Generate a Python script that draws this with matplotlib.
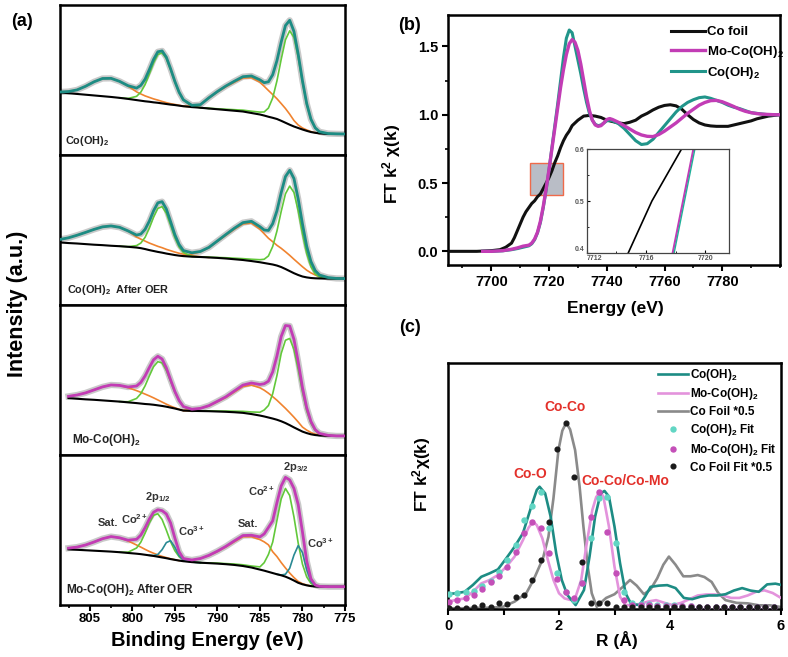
import numpy as np
import matplotlib
matplotlib.use('Agg')
import matplotlib.pyplot as plt
from matplotlib.patches import Rectangle
from matplotlib.ticker import MultipleLocator, FormatStrFormatter

plt.rcParams['font.family'] = ['Liberation Sans', 'DejaVu Sans']
plt.rcParams['font.weight'] = 'bold'
plt.rcParams['mathtext.fontset'] = 'custom'
plt.rcParams['mathtext.rm'] = 'Liberation Sans:bold'
plt.rcParams['mathtext.it'] = 'Liberation Sans:bold'
plt.rcParams['mathtext.bf'] = 'Liberation Sans:bold'
plt.rcParams['axes.linewidth'] = 1.8

# ---------------- (a) Co 2p XPS ----------------
be = [808.5, 807.5, 806.5, 805.5, 804.5, 803.5, 802.5, 801.5, 800.5, 799.5,
      799, 798.5, 798, 797.5, 797, 796.5, 796, 795.5, 795, 794.5, 794,
      793, 792, 791, 790, 789, 788, 787, 786, 785,
      784.5, 784, 783.5, 783, 782.5, 782, 781.5, 781, 780.5, 780,
      779.5, 779, 778.5, 778, 777, 776, 775]

# start index (in be) of each fitted component
I_SAT1, I_P12, I_SAT2, I_P32, I_CO3A, I_CO3B = 0, 8, 21, 23, 13, 34

# Co(OH)2
bg1 = [41.7, 41.2, 40.7, 40.2, 39.7, 39.2, 38.7, 38.1, 37.4, 36.6, 36.2, 35.8, 35.5, 35.1,
       34.8, 34.4, 34.0, 33.6, 33.3, 32.9, 32.5, 32.0, 31.5, 31.0, 30.5, 30.0, 29.5, 29.0,
       28.0, 27.0, 26.3, 25.5, 24.8, 24.0, 22.8, 21.5, 20.2, 19.0, 18.0, 17.0, 16.1, 15.3,
       14.8, 14.4, 14.0, 14.0, 14.0]
sat1_1 = [0.3, 1.1, 2.7, 5.6, 9.1, 11.8, 12.4, 11.0, 8.5, 5.5, 4.5, 3.6, 2.9, 2.3, 1.8,
          1.3, 0.9, 0.6, 0.4, 0.25, 0.1]
p12_1 = [0.3, 2.5, 5.7, 11.1, 18.5, 26.3, 32.2, 33.7, 30.3, 23.3, 15.4, 8.7, 4.2, 0.6, 0.05]
sat2_1 = [0.5, 2.0, 7.0, 11.5, 15.5, 19.0, 22.3, 23.5, 21.5, 19.5, 17.5, 15.5, 13.5, 11.5,
          9.5, 7.0, 4.0, 2.0, 1.0, 0.6, 0.3, 0.1]
p32_1 = [0.15, 0.3, 0.5, 0.7, 0.9, 1.2, 1.6, 2.4, 5.8, 13.2, 25.4, 41.0, 55.3, 62.6, 59.4,
         47.2, 31.5, 17.6, 8.2, 3.2, 1.1, 0.3, 0.1]

# Co(OH)2 after OER
bg2 = [41.7, 41.3, 41.0, 40.6, 40.2, 39.9, 39.5, 39.2, 38.8, 38.3, 37.9, 37.3, 36.6, 36.0,
       35.4, 34.9, 34.3, 33.8, 33.3, 32.9, 32.6, 32.2, 32.0, 31.7, 31.4, 31.0, 30.5, 30.0,
       29.3, 28.5, 28.0, 27.5, 27.0, 26.3, 25.3, 24.0, 22.6, 21.2, 20.0, 19.0, 18.4, 18.0,
       17.8, 17.7, 17.6, 17.6, 17.6]
sat1_2 = [2.0, 3.5, 5.5, 7.8, 10.2, 12.2, 13.2, 12.6, 10.5, 7.0, 6.0, 5.3, 4.7, 4.2, 3.7,
          3.3, 2.8, 2.4, 2.0, 1.6, 1.3, 0.6, 0.2]
p12_2 = [0.1, 1.3, 3.4, 7.8, 14.6, 22.6, 29.0, 30.7, 26.9, 19.4, 11.6, 5.8, 2.4, 0.2]
sat2_2 = [1.8, 3.5, 6.5, 11.0, 15.5, 20.0, 24.0, 25.3, 22.0, 19.5, 17.0, 15.2, 13.5, 12.5,
          11.5, 10.5, 9.3, 8.0, 6.5, 4.8, 3.4, 2.2, 1.3, 0.4, 0.1]
p32_2 = [0.2, 0.3, 0.5, 0.7, 0.9, 1.2, 1.7, 2.5, 5.2, 12.0, 23.0, 37.1, 50.1, 56.7, 53.8,
         42.7, 28.5, 15.9, 7.5, 2.9, 1.0, 0.3]

# Mo-Co(OH)2
bg3 = [38.3, 37.9, 37.5, 37.1, 36.8, 36.4, 36.0, 35.6, 35.1, 34.6, 34.3, 34.0, 33.8, 33.5,
       33.1, 32.7, 32.2, 31.6, 31.0, 30.3, 29.6, 29.4, 29.3, 29.2, 29.0, 28.8, 28.5, 28.1,
       27.3, 26.3, 25.7, 25.0, 24.3, 23.5, 22.5, 21.3, 19.9, 18.4, 17.0, 15.6, 14.6, 13.8,
       13.3, 13.0, 12.8, 12.7, 12.7]
sat1_3 = [0.5, 1.2, 2.5, 4.3, 6.6, 9.0, 10.7, 10.8, 9.8, 8.3, 7.5, 6.6, 5.6, 4.6, 3.6,
          2.6, 1.7, 1.0, 0.5, 0.2, 0.1]
p12_3 = [0.4, 3.1, 6.6, 12.1, 18.9, 25.4, 29.1, 28.7, 24.2, 17.5, 10.9, 5.8, 2.6, 0.3]
sat2_3 = [0.8, 1.8, 3.5, 6.5, 9.5, 13.5, 17.5, 19.3, 18.5, 17.5, 16.2, 14.6, 13.0, 11.3,
          9.8, 8.3, 6.8, 5.0, 3.0, 2.0, 1.2, 0.6, 0.3, 0.1]
p32_3 = [0.2, 0.3, 0.5, 0.7, 1.0, 1.4, 2.2, 4.3, 8.0, 16.5, 29.5, 45.2, 55.2, 57.8, 51.9,
         40.0, 26.4, 14.9, 7.3, 3.0, 1.1, 0.2]

# Mo-Co(OH)2 after OER
bg4 = [37.5, 37.1, 36.8, 36.5, 36.2, 35.9, 35.6, 35.2, 34.7, 34.2, 33.9, 33.5, 33.1, 32.7,
       32.2, 31.7, 31.2, 30.6, 30.1, 29.6, 29.2, 28.6, 28.2, 27.9, 27.6, 27.2, 26.7, 26.0,
       25.0, 23.6, 22.9, 22.1, 21.3, 20.5, 19.8, 18.9, 17.7, 16.3, 14.8, 13.8, 13.1, 12.6,
       12.3, 12.2, 12.2, 12.2, 12.2]
sat1_4 = [0.2, 0.8, 1.8, 3.5, 5.8, 8.3, 10.0, 9.6, 8.0, 5.8, 4.7, 3.6, 2.6, 1.8, 1.2, 0.7,
          0.4, 0.2, 0.1]
p12_4 = [0.5, 3.8, 8.0, 14.4, 21.6, 27.1, 28.6, 25.3, 18.7, 11.6, 6.1, 2.6, 1.0, 0.1]
co3a_4 = [0.25, 1.5, 5.2, 10.4, 12.3, 8.4, 3.3, 0.8, 0.0]
sat2_4 = [1.3, 2.8, 5.0, 8.0, 11.5, 15.5, 19.5, 20.5, 20.0, 19.2, 18.0, 14.2, 11.8, 8.5,
          5.8, 3.6, 2.0, 0.9, 0.4, 0.2]
p32_4 = [0.2, 0.3, 0.4, 0.6, 0.8, 1.0, 1.8, 5.3, 11.6, 20.6, 35.9, 50.9, 58.8, 55.3, 42.4,
         26.4, 13.4, 5.6, 1.8, 0.5, 0.1]
co3b_4 = [0.2, 1.6, 6.8, 17.0, 24.8, 21.1, 10.4, 3.0, 0.5, 0.1]

# ---------------- (b) Co K-edge XANES ----------------
foil_e = [7685, 7695, 7700, 7703, 7705, 7707, 7708, 7709, 7710, 7711,
          7712, 7713, 7714, 7715, 7716, 7717, 7718, 7719, 7720, 7721,
          7722, 7723, 7724, 7725, 7726, 7727, 7728,
          7730, 7732, 7734, 7736, 7738, 7740, 7742, 7744, 7746, 7748,
          7750, 7752, 7754, 7756, 7758, 7760, 7762, 7764, 7766, 7768,
          7770, 7772, 7774, 7776, 7778, 7780, 7782, 7784, 7786, 7788,
          7790, 7792, 7794, 7796, 7798, 7800]
foil_mu = [0.0, 0.0, 0.005, 0.012, 0.03, 0.06, 0.1, 0.15, 0.2, 0.25,
           0.29, 0.32, 0.35, 0.37, 0.4, 0.42, 0.46, 0.5, 0.54, 0.59,
           0.65, 0.7, 0.76, 0.81, 0.85, 0.88, 0.92,
           0.96, 0.99, 0.995, 0.99, 0.98, 0.96, 0.95, 0.94, 0.935, 0.945,
           0.96, 0.99, 1.01, 1.035, 1.055, 1.068, 1.073, 1.065, 1.04, 1.0,
           0.965, 0.94, 0.925, 0.918, 0.915, 0.915, 0.915, 0.925, 0.935, 0.945,
           0.955, 0.97, 0.98, 0.99, 0.995, 1.0]
xas_e = [7697, 7700, 7704, 7707, 7709, 7711,
         7713, 7714, 7715, 7716, 7717, 7718, 7719, 7720, 7721, 7722,
         7723, 7724, 7725, 7726, 7727, 7728, 7729, 7730, 7731, 7732,
         7733, 7734, 7735, 7736, 7737, 7738, 7739, 7740, 7741, 7742,
         7744, 7746, 7748, 7750, 7752, 7754, 7756, 7758, 7760, 7762,
         7764, 7766, 7768, 7770, 7772, 7774, 7776, 7778, 7780, 7782,
         7784, 7786, 7788, 7790, 7792, 7794, 7796, 7798, 7800]
cooh_mu = [0.0, 0.0, 0.004, 0.012, 0.02, 0.03,
           0.04, 0.055, 0.085, 0.135, 0.21, 0.32, 0.45, 0.6, 0.76, 0.92,
           1.08, 1.25, 1.42, 1.56, 1.62, 1.6, 1.5, 1.4, 1.3, 1.19,
           1.09, 1.01, 0.96, 0.93, 0.92, 0.925, 0.94, 0.955, 0.96, 0.955,
           0.935, 0.9, 0.855, 0.81, 0.782, 0.788, 0.82, 0.87, 0.92, 0.97,
           1.02, 1.06, 1.09, 1.11, 1.125, 1.13, 1.12, 1.105, 1.09, 1.07,
           1.055, 1.045, 1.03, 1.015, 1.01, 1.005, 1.0, 1.0, 1.0]
moco_mu = [0.0, 0.0, 0.005, 0.015, 0.025, 0.038,
           0.045, 0.06, 0.09, 0.14, 0.22, 0.33, 0.46, 0.6, 0.75, 0.9,
           1.05, 1.2, 1.33, 1.44, 1.52, 1.55, 1.53, 1.47, 1.37, 1.25,
           1.13, 1.03, 0.96, 0.925, 0.915, 0.92, 0.94, 0.965, 0.972, 0.965,
           0.945, 0.92, 0.895, 0.87, 0.852, 0.842, 0.84, 0.855, 0.88, 0.91,
           0.94, 0.975, 1.01, 1.04, 1.07, 1.09, 1.103, 1.105, 1.095, 1.078,
           1.06, 1.04, 1.025, 1.015, 1.008, 1.004, 1.002, 1.0, 1.0]
# inset (zoom of edge between 0.4 and 0.6)
ins_foil_e = [7714.8, 7715.6, 7716.4, 7717.4, 7718.4]
ins_foil_mu = [0.40, 0.45, 0.50, 0.55, 0.60]
ins_moco_e = [7717.8, 7718.5, 7719.2]
ins_cooh_e = [7717.9, 7718.6, 7719.3]
ins_mu = [0.40, 0.50, 0.60]

# ---------------- (c) FT-EXAFS ----------------
r_cooh = [0, 0.15, 0.3, 0.45, 0.6, 0.75, 0.9, 1.05, 1.2, 1.35,
          1.5, 1.6, 1.65, 1.75, 1.85, 1.95, 2.05, 2.15, 2.3, 2.45,
          2.55, 2.65, 2.75, 2.82, 2.9, 3.0, 3.1, 3.2, 3.3, 3.45,
          3.55, 3.65, 3.8, 3.95, 4.1, 4.25, 4.4, 4.55, 4.7, 4.85,
          5.0, 5.15, 5.3, 5.45, 5.6, 5.75, 5.9, 6.0]
ft_cooh = [6.1, 6.4, 7.0, 9.8, 13.1, 14.5, 16.1, 20.6, 25.3, 30.8,
           41.6, 48.4, 49.7, 47.0, 37.5, 22.6, 11.8, 5.7, 1.6, 7.7,
           21.3, 37.5, 47.0, 48.0, 45.7, 33.5, 18.6, 6.4, 2.0, 1.6,
           5.0, 9.0, 9.5, 9.7, 8.5, 4.5, 4.0, 5.0, 5.5, 5.5,
           6.0, 7.5, 8.5, 7.5, 7.0, 10.0, 10.3, 9.8]
r_moco = [0, 0.15, 0.3, 0.45, 0.6, 0.75, 0.9, 1.05, 1.2, 1.35,
          1.45, 1.53, 1.6, 1.7, 1.8, 1.9, 2.0, 2.1, 2.2, 2.3,
          2.4, 2.5, 2.6, 2.67, 2.74, 2.8, 2.9, 3.0, 3.1, 3.2,
          3.3, 3.45, 3.6, 3.75, 3.9, 4.05, 4.2, 4.35, 4.5, 4.65,
          4.8, 4.95, 5.1, 5.25, 5.4, 5.55, 5.7, 5.85, 6.0]
ft_moco = [3.0, 3.7, 4.3, 7.0, 10.4, 11.8, 13.8, 17.2, 21.3, 28.0,
           33.0, 35.5, 34.1, 28.7, 19.9, 11.8, 6.4, 4.3, 3.7, 5.0,
           11.8, 26.7, 40.2, 45.5, 47.7, 45.7, 33.5, 17.2, 5.0, 1.6,
           1.6, 2.0, 3.0, 3.6, 2.5, 1.6, 2.5, 4.0, 5.5, 5.9,
           5.9, 5.5, 4.5, 4.5, 5.5, 7.0, 7.6, 6.5, 4.5]
r_foil = [0, 0.3, 0.6, 0.8, 1.0, 1.2, 1.41, 1.54, 1.71, 1.81,
          1.9, 1.99, 2.06, 2.13, 2.2, 2.29, 2.37, 2.44, 2.52, 2.59,
          2.68, 2.75, 2.85, 3.0, 3.15, 3.28, 3.4, 3.53, 3.65, 3.77,
          3.88, 3.98, 4.1, 4.24, 4.37, 4.5, 4.62, 4.75, 4.87, 5.0,
          5.2, 5.4, 5.6, 5.8, 6.0]
ft_foil = [0.3, 0.3, 0.5, 0.5, 1.0, 3.0, 6.4, 11.8, 20.5, 29.4,
           45.0, 64.6, 72.5, 75.7, 73.0, 64.6, 50.0, 33.5, 17.0, 6.4,
           0.9, 2.5, 4.5, 6.0, 9.0, 11.8, 9.5, 6.0, 8.0, 12.5,
           18.0, 21.3, 18.0, 13.3, 13.3, 13.8, 13.0, 11.0, 6.5, 3.6,
           2.5, 2.3, 1.5, 1.5, 0.8]
r_fit = [0.02, 0.17, 0.32, 0.47, 0.62, 0.77, 0.92, 1.07, 1.22, 1.37,
         1.52, 1.67, 1.82, 1.97, 2.12, 2.27, 2.42, 2.57, 2.72, 2.87,
         3.02, 3.17, 3.32, 3.47, 3.62, 3.77, 3.92, 4.07, 4.22, 4.37,
         4.52, 4.67, 4.82, 4.97, 5.12, 5.27, 5.42, 5.57, 5.72, 5.87]
fit_cooh = [6.2, 6.6, 7.0, 7.3, 9.3, 11.3, 15.0, 20.0, 26.0, 36.2,
            42.0, 47.4, 33.0, 14.5, 7.0, 3.5, 10.5, 29.0, 45.0, 45.5,
            27.0, 7.0, 2.5, 2.2, 2.0, 1.8, 1.8, 1.5, 1.2, 1.2,
            1.0, 1.0, 1.0, 0.9, 0.9, 0.9, 0.8, 0.8, 0.8, 0.8]
fit_moco = [3.0, 3.5, 4.3, 5.8, 8.1, 10.8, 13.5, 17.2, 23.3, 30.8,
            35.5, 32.8, 22.6, 12.3, 7.0, 4.3, 10.4, 37.5, 47.7, 31.4,
            14.5, 3.7, 1.8, 1.6, 1.5, 1.4, 1.3, 1.2, 1.2, 1.1,
            1.0, 1.0, 1.0, 0.9, 0.9, 0.9, 0.8, 0.8, 0.8, 0.8]
fit_foil = [0.3, 0.3, 0.5, 0.8, 1.6, 1.0, 2.3, 1.9, 5.0, 5.7,
            11.8, 19.9, 35.5, 65.0, 75.8, 53.8, 19.2, 2.5, 2.3, 2.3,
            1.0, 0.8, 1.0, 0.8, 1.0, 0.8, 1.0, 0.8, 0.8, 1.0,
            0.8, 0.8, 1.0, 0.8, 0.8, 0.8, 0.8, 0.8, 0.8, 0.8]

TEAL = '#1d8c84'
MAG = '#c23cb5'
ORANGE = '#f0832f'
GREEN = '#62c83a'
CO3 = '#2a8a94'
RED = '#e3302a'

fig = plt.figure(figsize=(7.88, 6.57), dpi=100)
W, H = 788.0, 657.0


def box(l, t, r, b):
    return [l / W, 1 - b / H, (r - l) / W, (b - t) / H]


def pad(start, vals):
    out = np.zeros(len(be))
    out[start:start + len(vals)] = vals
    return out


def xps(ax, bg, comps, env_color, first):
    x = np.array(be)
    bg = np.array(bg)
    # fit envelope = background + all components
    env = bg.copy()
    for start, vals, c in comps:
        env = env + pad(start, vals)
    s = slice(first, None)
    ax.plot(x[s], env[s], color='#c9c9c9', lw=4.5, zorder=1)
    for start, vals, c in comps:
        a = max(start - 1, first)
        e = min(start + len(vals) + 1, len(be))
        y = bg + pad(start, vals)
        ax.plot(x[a:e], y[a:e], color=c, lw=1.2, zorder=2)
    ax.plot(x[s], bg[s], color='black', lw=1.5, zorder=3)
    ax.plot(x[s], env[s], color=env_color, lw=2.0, zorder=4)
    ax.set_xlim(808.5, 775)
    ax.set_ylim(0, 100)
    ax.set_yticks([])
    ax.tick_params(bottom=False, labelbottom=False)


tops = [5, 155, 305, 455]
axa = [fig.add_axes(box(60, t, 345, t + 150)) for t in tops]
xps(axa[0], bg1, [(I_SAT1, sat1_1, ORANGE), (I_SAT2, sat2_1, ORANGE),
                  (I_P12, p12_1, GREEN), (I_P32, p32_1, GREEN)], TEAL, 0)
xps(axa[1], bg2, [(I_SAT1, sat1_2, ORANGE), (I_SAT2, sat2_2, ORANGE),
                  (I_P12, p12_2, GREEN), (I_P32, p32_2, GREEN)], TEAL, 0)
xps(axa[2], bg3, [(I_SAT1, sat1_3, ORANGE), (I_SAT2, sat2_3, ORANGE),
                  (I_P12, p12_3, GREEN), (I_P32, p32_3, GREEN)], MAG, 1)
xps(axa[3], bg4, [(I_SAT1, sat1_4, ORANGE), (I_SAT2, sat2_4, ORANGE),
                  (I_P12, p12_4, GREEN), (I_P32, p32_4, GREEN),
                  (I_CO3A, co3a_4, CO3), (I_CO3B, co3b_4, CO3)], MAG, 1)

axa[3].tick_params(bottom=True, labelbottom=True, direction='out', length=4, width=1.5,
                   labelsize=9.5, pad=2)
axa[3].tick_params(which='minor', direction='out', length=2.5, width=1.2)
axa[3].xaxis.set_major_locator(MultipleLocator(5))
axa[3].xaxis.set_minor_locator(MultipleLocator(2.5))

lab_kw = dict(fontsize=7.8, color='#222222', va='center', ha='left')
axa[0].text(807.9, 9.5, 'Co(OH)$_2$', **lab_kw)
axa[1].text(807.7, 10, 'Co(OH)$_2$  After OER', **lab_kw)
axa[2].text(807.1, 10, 'Mo-Co(OH)$_2$', fontsize=8.5, color='#222222', va='center')
axa[3].text(807.8, 10, 'Mo-Co(OH)$_2$ After OER', fontsize=8.5, color='#222222', va='center')

ann_kw = dict(fontsize=8, color='#333333', ha='center', va='center')
axa[3].text(802.9, 55, 'Sat.', **ann_kw)
axa[3].text(799.7, 57, 'Co$^{2+}$', **ann_kw)
axa[3].text(797.0, 72, '2p$_{1/2}$', **ann_kw)
axa[3].text(793.0, 49, 'Co$^{3+}$', **ann_kw)
axa[3].text(786.4, 54, 'Sat.', **ann_kw)
axa[3].text(784.8, 76, 'Co$^{2+}$', **ann_kw)
axa[3].text(780.8, 92, '2p$_{3/2}$', **ann_kw)
axa[3].text(777.9, 41, 'Co$^{3+}$', **ann_kw)

fig.text(22 / W, 1 - 22 / H, '(a)', fontsize=13, ha='center', va='center')
fig.text(18 / W, 1 - 304 / H, 'Intensity (a.u.)', fontsize=15.5, rotation=90,
         ha='center', va='center')
fig.text(207 / W, 1 - 640 / H, 'Binding Energy (eV)', fontsize=14.5, ha='center', va='center')

# ---------------- (b) ----------------
axb = fig.add_axes(box(448, 15, 780, 265))
axb.add_patch(Rectangle((7713.4, 0.41), 11.4, 0.24, facecolor='#b9bdc6',
                        edgecolor='#ef6a4a', lw=1.0, zorder=1))
lf, = axb.plot(foil_e, foil_mu, color='#111111', lw=2.2, zorder=3, label='Co foil')
lc, = axb.plot(xas_e, cooh_mu, color='#21958a', lw=2.2, zorder=3, label='Co(OH)$_2$')
lm, = axb.plot(xas_e, moco_mu, color=MAG, lw=2.4, zorder=4, label='Mo-Co(OH)$_2$')
axb.set_xlim(7685, 7800)
axb.set_ylim(-0.1, 1.73)
axb.set_xticks([7700, 7720, 7740, 7760, 7780])
axb.xaxis.set_minor_locator(MultipleLocator(10))
axb.yaxis.set_major_locator(MultipleLocator(0.5))
axb.yaxis.set_minor_locator(MultipleLocator(0.25))
axb.tick_params(direction='out', length=4, width=1.5, labelsize=10.5, pad=3)
axb.tick_params(which='minor', direction='out', length=2.5, width=1.2)
axb.yaxis.set_major_formatter(FormatStrFormatter('%.1f'))
axb.legend(handles=[lf, lm, lc], loc='upper left', bbox_to_anchor=(0.672, 0.955),
           frameon=False, fontsize=9.5, handlelength=2.6, handletextpad=0.15,
           labelspacing=0.4, borderpad=0, borderaxespad=0)

fig.text(410 / W, 1 - 25 / H, '(b)', fontsize=13, ha='center', va='center')
fig.text(392 / W, 1 - 164 / H, 'FT k$^2$ χ(k)', fontsize=12.5, rotation=90,
         ha='center', va='center')
fig.text(615 / W, 1 - 308 / H, 'Energy (eV)', fontsize=12.5, ha='center', va='center')

axi = fig.add_axes(box(586.7, 149, 729, 253))
axi.set_zorder(5)
axi.plot(ins_foil_e, ins_foil_mu, color='black', lw=1.2)
axi.plot(ins_moco_e, ins_mu, color=MAG, lw=1.5)
axi.plot(ins_cooh_e, ins_mu, color='#21b09a', lw=1.0)
axi.set_xlim(7712, 7721.6)
axi.set_ylim(0.4, 0.6)
axi.set_xticks([7712, 7716, 7720])
axi.set_yticks([0.4, 0.5, 0.6])
axi.xaxis.set_minor_locator(MultipleLocator(2))
axi.yaxis.set_minor_locator(MultipleLocator(0.05))
for sp in axi.spines.values():
    sp.set_linewidth(0.9)
    sp.set_color('#444444')
axi.tick_params(direction='in', length=2.5, width=0.8, labelsize=5, pad=1.5,
                labelcolor='#555555')
axi.tick_params(which='minor', direction='in', length=1.5, width=0.6)
axi.get_xticklabels()[0].set_horizontalalignment('left')
axi.get_yticklabels()[0].set_verticalalignment('bottom')

# ---------------- (c) ----------------
axc = fig.add_axes(box(448, 363, 781, 609))
axc.plot(r_foil, ft_foil, color='#8a8a8a', lw=1.9, label='Co Foil *0.5', zorder=2)
axc.plot(r_moco, ft_moco, color='#e393dc', lw=1.9, label='Mo-Co(OH)$_2$', zorder=3)
axc.plot(r_cooh, ft_cooh, color=TEAL, lw=1.9, label='Co(OH)$_2$', zorder=4)
axc.plot(r_fit, fit_cooh, 'o', color='#62d6c4', ms=3.6, label='Co(OH)$_2$ Fit', zorder=5)
axc.plot(r_fit, fit_moco, 'o', color='#c44fb8', ms=3.6, label='Mo-Co(OH)$_2$ Fit', zorder=5)
axc.plot(r_fit, fit_foil, 'o', color='#1a1a1a', ms=3.4, label='Co Foil Fit *0.5', zorder=5)
axc.set_xlim(0, 6)
axc.set_ylim(0, 100)
axc.set_yticks([])
axc.set_xticks([0, 2, 4, 6])
axc.xaxis.set_minor_locator(MultipleLocator(1))
axc.tick_params(direction='out', length=4, width=1.5, labelsize=10.5, pad=3)
axc.tick_params(which='minor', direction='out', length=4, width=1.5)
h, l = axc.get_legend_handles_labels()
order = [2, 1, 0, 3, 4, 5]
axc.legend([h[i] for i in order], [l[i] for i in order], loc='upper left',
           bbox_to_anchor=(0.632, 0.985), frameon=False, fontsize=8.5, handlelength=2.5,
           handletextpad=0.2, labelspacing=0.32, borderpad=0, borderaxespad=0, numpoints=1)
axc.text(2.1, 82, 'Co-Co', color=RED, fontsize=10, ha='center', va='center')
axc.text(1.48, 55, 'Co-O', color=RED, fontsize=10, ha='center', va='center')
axc.text(3.2, 52, 'Co-Co/Co-Mo', color=RED, fontsize=10, ha='center', va='center')

fig.text(410 / W, 1 - 328 / H, '(c)', fontsize=13, ha='center', va='center')
fig.text(422 / W, 1 - 474 / H, 'FT k$^2$χ(k)', fontsize=12.5, rotation=90,
         ha='center', va='center')
fig.text(617 / W, 1 - 640 / H, 'R (Å)', fontsize=12.5, ha='center', va='center')

fig.savefig('out.png', dpi=100)
